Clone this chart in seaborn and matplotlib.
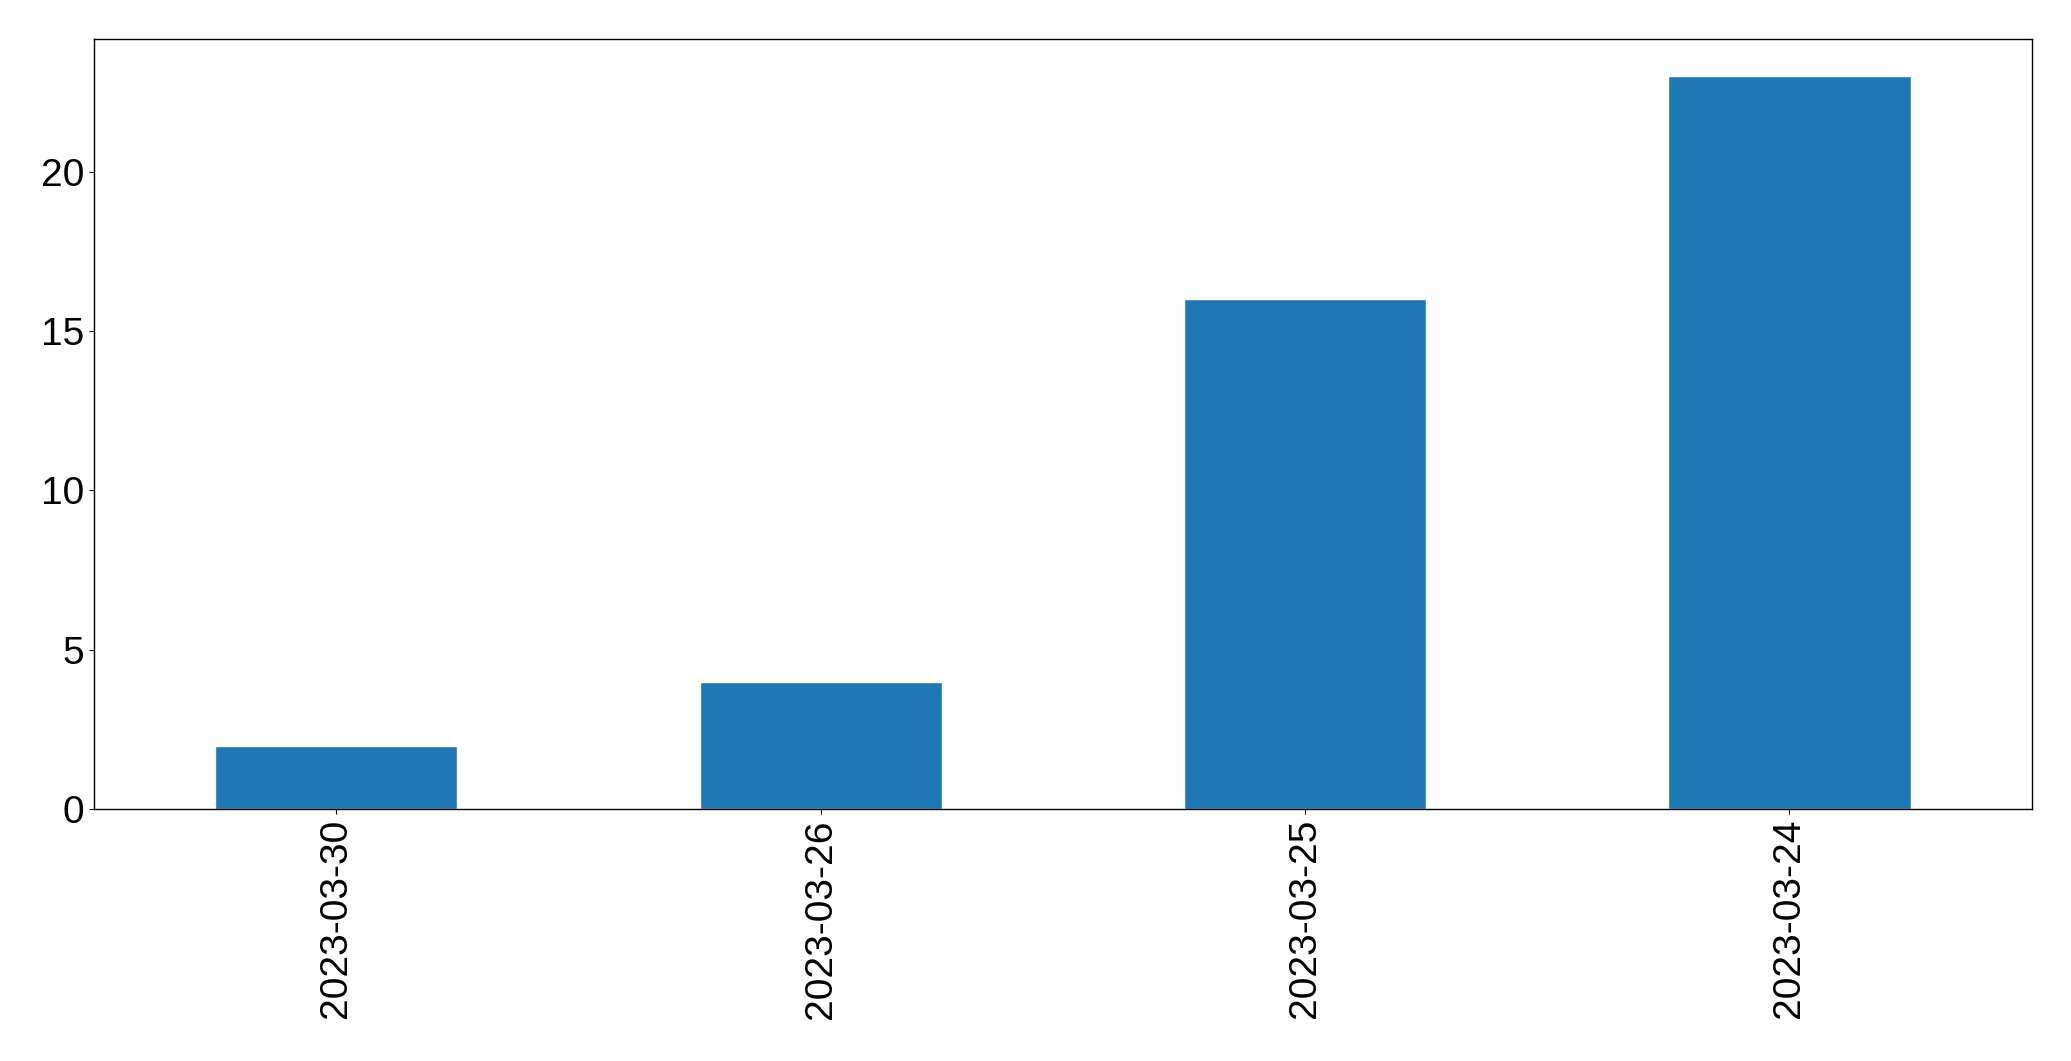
import numpy as np
import pandas as pd
import matplotlib
matplotlib.use("Agg")
import matplotlib.pyplot as plt
import seaborn as sns

# values
dates = ["2023-03-30", "2023-03-26", "2023-03-25", "2023-03-24"]
counts = [2, 4, 16, 23]

df = pd.DataFrame({"date": dates, "count": counts})

sns.set_style("ticks")
plt.rcParams["font.family"] = ["Liberation Sans", "DejaVu Sans"]
plt.rcParams["text.color"] = "black"
plt.rcParams["xtick.color"] = "black"
plt.rcParams["ytick.color"] = "black"

fig, ax = plt.subplots(figsize=(20.71, 10.61), dpi=100)
sns.barplot(data=df, x="date", y="count", color="#1f77b4", saturation=1,
            width=0.5, ax=ax)

ax.set_xlim(-0.5, len(dates) - 0.5)
ax.set_ylim(0, max(counts) * 1.05)
ax.set_yticks([0, 5, 10, 15, 20])
ax.set_xlabel("")
ax.set_ylabel("")
ax.tick_params(axis="both", labelsize=28, length=3.5, colors="black")
plt.setp(ax.get_xticklabels(), rotation=90)
for s in ax.spines.values():
    s.set_visible(True)
    s.set_color("black")
    s.set_linewidth(1.0)

fig.subplots_adjust(left=0.0455, right=0.981, top=0.963, bottom=0.2372)
fig.savefig("out.png", dpi=100)
